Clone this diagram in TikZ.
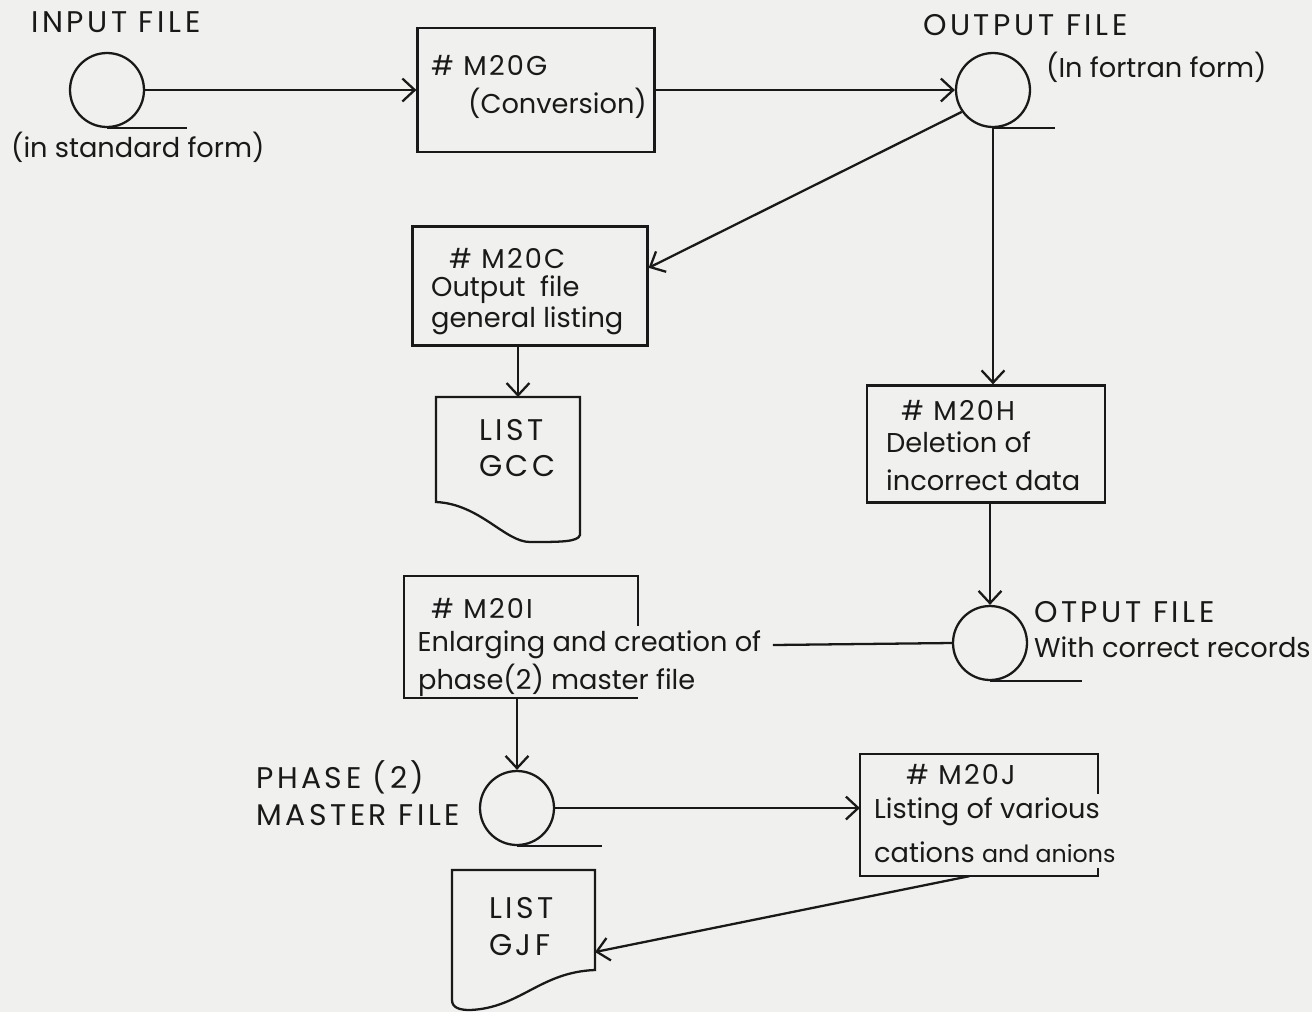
\documentclass[tikz,border=0pt]{standalone}
\usepackage{fontspec}
\setmainfont{Poppins}
\newfontfamily\capsfont[LetterSpace=12]{Poppins}
\newfontfamily\numfont[LetterSpace=8]{Poppins}
\usetikzlibrary{calc,positioning,arrows.meta}
\definecolor{paper}{RGB}{240,240,238}
\definecolor{ink}{RGB}{25,25,25}

\begin{document}
\begin{tikzpicture}[x=0.02cm,y=-0.02cm,>={Straight Barb[length=7pt,width=13pt]},
  line width=1.3pt,draw=ink,font=\fontsize{15.5}{18}\selectfont,
  file/.style={circle,draw,minimum size=1.48cm,inner sep=0pt},
  proc/.style={rectangle,inner sep=0pt},
  lbl/.style={anchor=west,inner sep=0pt,text=ink},
  caps/.style={lbl,font=\capsfont\fontsize{17}{20}\selectfont},
  num/.style={lbl,font=\numfont\fontsize{15.5}{18}\selectfont}]
% paper
\fill[paper] (0,0) rectangle (1312,1012);
\useasboundingbox (0,0) rectangle (1312,1012);
% input file
\node[file] (infile) at (107,90) {};
\draw (infile.south) -- ++(80,0);
\node[caps] at (30,22) {INPUT FILE};
\node[lbl] at (10,147) {(in standard form)};
% M20G conversion
\node[proc,draw,minimum width=4.74cm,minimum height=2.48cm] (m20g) at (536,90) {};
\node[num] at (430,65) {\# M20G};
\node[lbl] at (467,103) {(Conversion)};
% output file
\node[file] (outfile) at (993,90) {};
\draw (outfile.south) -- ++(62,0);
\node[caps] at (922,25) {OUTPUT FILE};
\node[lbl] at (1045,67) {(In fortran form)};
% M20C listing
\node[proc,draw,minimum width=4.7cm,minimum height=2.38cm] (m20c) at (530,286) {};
\node[num] at (448,258) {\# M20C};
\node[lbl] at (430,290) {Output\ \ file};
\node[lbl] at (430,321) {general listing};
% list GCC (document)
\draw (436,397) -- (436,502) .. controls (480,504) and (505,542) .. (530,542)
  .. controls (560,542) and (578,542) .. (580,535) -- (580,397) -- cycle;
\coordinate (gcc) at (518,397);
\node[caps] at (478,430) {LIST};
\node[caps] at (478,466) {GCC};
% M20H deletion
\node[proc,draw,minimum width=4.76cm,minimum height=2.34cm] (m20h) at (986,444) {};
\node[num] at (900,410) {\# M20H};
\node[lbl] at (885,442) {Deletion of};
\node[lbl] at (885,480) {incorrect data};
% output file with correct records
\node[file] (okfile) at (990,643) {};
\draw (okfile.south) -- ++(92,0);
\node[caps] at (1033,612) {OTPUT FILE};
\node[lbl] at (1033,647) {With correct records};
% M20I enlarging (open box)
\node[proc,minimum width=4.64cm,minimum height=2.4cm] (m20i) at (521,637) {};
\draw ($(m20i.north east)+(0,50)$) -- (m20i.north east) -- (m20i.north west)
  -- (m20i.south west) -- (m20i.south east);
\node[num] at (430,608) {\# M20I};
\node[lbl,inner xsep=6pt] (enl) at (406,645) {Enlarging and creation of};
\node[lbl] at (417,680) {phase(2) master file};
% phase (2) master file
\node[file] (phfile) at (517,808) {};
\draw (phfile.south) -- ++(85,0);
\node[caps] at (255,777) {PHASE (2)};
\node[caps] at (255,815) {MASTER FILE};
% M20J listing of ions (open box)
\node[proc,minimum width=4.72cm,minimum height=2.4cm] (m20j) at (979,815) {};
\draw ($(m20j.north east)+(0,40)$) -- (m20j.north east) -- (m20j.north west)
  -- (m20j.south west) -- (m20j.south east) -- ++(0,-8);
\node[num] at (905,775) {\# M20J};
\node[lbl] at (873,812) {Listing of various};
\node[lbl] at (873,852) {cations {\fontsize{13.5}{16}\selectfont and anions}};
% list GJF (document)
\draw (452,870) -- (452,1000) .. controls (452,1008) and (460,1010) .. (470,1010)
  .. controls (520,1008) and (540,972) .. (595,970) -- (595,870) -- cycle;
\coordinate (gjf) at (595,952);
\node[caps] at (488,908) {LIST};
\node[caps] at (488,945) {GJF};
% flow lines
\draw[->] (infile.east) -- (m20g.west |- infile.east);
\draw[->] (m20g.east |- outfile.west) -- (outfile.west);
\draw[->] (outfile.215) -- ($(m20c.north east)!0.35!(m20c.south east)$);
\draw[->] (m20c.south -| gcc) -- (gcc);
\draw[->] (outfile.south) -- (outfile.south |- m20h.north);
\draw[->] (m20h.south -| okfile.north) -- (okfile.north);
\draw (enl.east) -- (okfile.west);
\draw[->] (m20i.south -| phfile.north) -- (phfile.north);
\draw[->] (phfile.east) -- (m20j.west |- phfile.east);
\draw[->] ($(m20j.south west)!0.46!(m20j.south east)$) -- (gjf);
\end{tikzpicture}
\end{document}
